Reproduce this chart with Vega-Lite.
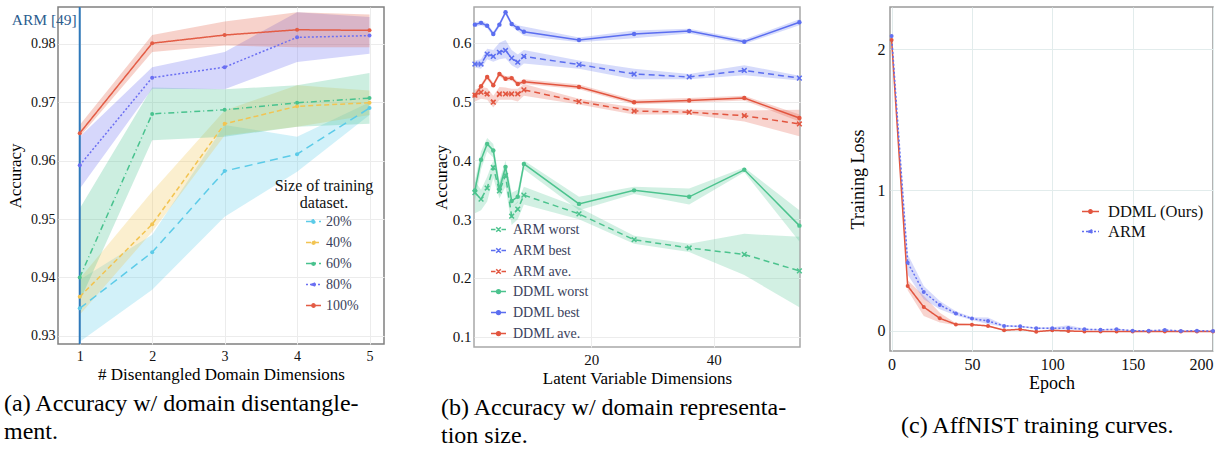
{
  "$schema": "https://vega.github.io/schema/vega-lite/v6.json",
  "autosize": {"type": "pad"},
  "padding": {"left": 3, "top": 5, "right": 0, "bottom": 0},
  "background": "white",
  "config": {
    "font": "Liberation Serif",
    "axis": {"domain": false, "ticks": false, "labelFont": "Liberation Serif", "titleFont": "Liberation Serif", "titleFontWeight": "normal", "labelColor": "#111", "titleColor": "#000", "gridColor": "#ececec", "labelPadding": 5},
    "legend": {"labelFont": "Liberation Serif", "titleFont": "Liberation Serif", "titleFontWeight": "normal"}
  },
  "resolve": {
    "scale": {"color": "independent", "strokeDash": "independent"},
    "legend": {"color": "independent", "strokeDash": "independent"}
  },
  "datasets": {
    "a": [
      {"x": 1, "s": "20%", "y": 0.9347, "lo": 0.9290, "hi": 0.9396},
      {"x": 2, "s": "20%", "y": 0.9443, "lo": 0.9379, "hi": 0.9473},
      {"x": 3, "s": "20%", "y": 0.9582, "lo": 0.9504, "hi": 0.9661},
      {"x": 4, "s": "20%", "y": 0.9611, "lo": 0.9581, "hi": 0.9641},
      {"x": 5, "s": "20%", "y": 0.9690, "lo": 0.9678, "hi": 0.9700},
      {"x": 1, "s": "40%", "y": 0.9367, "lo": 0.9336, "hi": 0.9398},
      {"x": 2, "s": "40%", "y": 0.9491, "lo": 0.9478, "hi": 0.9547},
      {"x": 3, "s": "40%", "y": 0.9663, "lo": 0.9643, "hi": 0.9686},
      {"x": 4, "s": "40%", "y": 0.9693, "lo": 0.9658, "hi": 0.9729},
      {"x": 5, "s": "40%", "y": 0.9699, "lo": 0.9678, "hi": 0.9720},
      {"x": 1, "s": "60%", "y": 0.9400, "lo": 0.9359, "hi": 0.9518},
      {"x": 2, "s": "60%", "y": 0.9680, "lo": 0.9635, "hi": 0.9725},
      {"x": 3, "s": "60%", "y": 0.9687, "lo": 0.9641, "hi": 0.9722},
      {"x": 4, "s": "60%", "y": 0.9699, "lo": 0.9658, "hi": 0.9729},
      {"x": 5, "s": "60%", "y": 0.9707, "lo": 0.9663, "hi": 0.9750},
      {"x": 1, "s": "80%", "y": 0.9592, "lo": 0.9552, "hi": 0.9641},
      {"x": 2, "s": "80%", "y": 0.9742, "lo": 0.9723, "hi": 0.9760},
      {"x": 3, "s": "80%", "y": 0.9760, "lo": 0.9722, "hi": 0.9786},
      {"x": 4, "s": "80%", "y": 0.9811, "lo": 0.9769, "hi": 0.9854},
      {"x": 5, "s": "80%", "y": 0.9814, "lo": 0.9783, "hi": 0.9846},
      {"x": 1, "s": "100%", "y": 0.9647, "lo": 0.9641, "hi": 0.9661},
      {"x": 2, "s": "100%", "y": 0.9801, "lo": 0.9786, "hi": 0.9815},
      {"x": 3, "s": "100%", "y": 0.9815, "lo": 0.9797, "hi": 0.9838},
      {"x": 4, "s": "100%", "y": 0.9824, "lo": 0.9794, "hi": 0.9854},
      {"x": 5, "s": "100%", "y": 0.9823, "lo": 0.9794, "hi": 0.9850}
    ],
    "barm": [
      {"x": 1, "s": "ARM worst", "y": 0.345, "lo": 0.310, "hi": 0.365},
      {"x": 2, "s": "ARM worst", "y": 0.334, "lo": 0.315, "hi": 0.350},
      {"x": 3, "s": "ARM worst", "y": 0.353, "lo": 0.330, "hi": 0.372},
      {"x": 4, "s": "ARM worst", "y": 0.388, "lo": 0.370, "hi": 0.400},
      {"x": 5, "s": "ARM worst", "y": 0.348, "lo": 0.335, "hi": 0.362},
      {"x": 6, "s": "ARM worst", "y": 0.374, "lo": 0.355, "hi": 0.390},
      {"x": 7, "s": "ARM worst", "y": 0.305, "lo": 0.290, "hi": 0.320},
      {"x": 8, "s": "ARM worst", "y": 0.317, "lo": 0.300, "hi": 0.330},
      {"x": 9, "s": "ARM worst", "y": 0.341, "lo": 0.325, "hi": 0.355},
      {"x": 18, "s": "ARM worst", "y": 0.309, "lo": 0.300, "hi": 0.320},
      {"x": 27, "s": "ARM worst", "y": 0.265, "lo": 0.258, "hi": 0.272},
      {"x": 36, "s": "ARM worst", "y": 0.251, "lo": 0.244, "hi": 0.258},
      {"x": 45, "s": "ARM worst", "y": 0.240, "lo": 0.205, "hi": 0.275},
      {"x": 54, "s": "ARM worst", "y": 0.212, "lo": 0.150, "hi": 0.270},
      {"x": 1, "s": "ARM best", "y": 0.564, "lo": 0.558, "hi": 0.570},
      {"x": 2, "s": "ARM best", "y": 0.564, "lo": 0.556, "hi": 0.572},
      {"x": 3, "s": "ARM best", "y": 0.581, "lo": 0.572, "hi": 0.590},
      {"x": 4, "s": "ARM best", "y": 0.577, "lo": 0.568, "hi": 0.588},
      {"x": 5, "s": "ARM best", "y": 0.584, "lo": 0.572, "hi": 0.600},
      {"x": 6, "s": "ARM best", "y": 0.587, "lo": 0.574, "hi": 0.605},
      {"x": 7, "s": "ARM best", "y": 0.574, "lo": 0.562, "hi": 0.588},
      {"x": 8, "s": "ARM best", "y": 0.567, "lo": 0.556, "hi": 0.580},
      {"x": 9, "s": "ARM best", "y": 0.577, "lo": 0.565, "hi": 0.588},
      {"x": 18, "s": "ARM best", "y": 0.563, "lo": 0.556, "hi": 0.570},
      {"x": 27, "s": "ARM best", "y": 0.547, "lo": 0.538, "hi": 0.556},
      {"x": 36, "s": "ARM best", "y": 0.542, "lo": 0.538, "hi": 0.547},
      {"x": 45, "s": "ARM best", "y": 0.553, "lo": 0.545, "hi": 0.562},
      {"x": 54, "s": "ARM best", "y": 0.540, "lo": 0.536, "hi": 0.544},
      {"x": 1, "s": "ARM ave.", "y": 0.511, "lo": 0.500, "hi": 0.520},
      {"x": 2, "s": "ARM ave.", "y": 0.516, "lo": 0.505, "hi": 0.525},
      {"x": 3, "s": "ARM ave.", "y": 0.513, "lo": 0.503, "hi": 0.523},
      {"x": 4, "s": "ARM ave.", "y": 0.499, "lo": 0.490, "hi": 0.510},
      {"x": 5, "s": "ARM ave.", "y": 0.513, "lo": 0.503, "hi": 0.525},
      {"x": 6, "s": "ARM ave.", "y": 0.513, "lo": 0.503, "hi": 0.524},
      {"x": 7, "s": "ARM ave.", "y": 0.513, "lo": 0.503, "hi": 0.522},
      {"x": 8, "s": "ARM ave.", "y": 0.513, "lo": 0.500, "hi": 0.522},
      {"x": 9, "s": "ARM ave.", "y": 0.520, "lo": 0.510, "hi": 0.530},
      {"x": 18, "s": "ARM ave.", "y": 0.500, "lo": 0.495, "hi": 0.505},
      {"x": 27, "s": "ARM ave.", "y": 0.484, "lo": 0.478, "hi": 0.490},
      {"x": 36, "s": "ARM ave.", "y": 0.482, "lo": 0.478, "hi": 0.486},
      {"x": 45, "s": "ARM ave.", "y": 0.476, "lo": 0.466, "hi": 0.485},
      {"x": 54, "s": "ARM ave.", "y": 0.462, "lo": 0.441, "hi": 0.486}
    ],
    "bddml": [
      {"x": 1, "s": "DDML worst", "y": 0.349, "lo": 0.330, "hi": 0.365},
      {"x": 2, "s": "DDML worst", "y": 0.401, "lo": 0.385, "hi": 0.415},
      {"x": 3, "s": "DDML worst", "y": 0.428, "lo": 0.415, "hi": 0.438},
      {"x": 4, "s": "DDML worst", "y": 0.417, "lo": 0.405, "hi": 0.428},
      {"x": 5, "s": "DDML worst", "y": 0.351, "lo": 0.340, "hi": 0.365},
      {"x": 6, "s": "DDML worst", "y": 0.389, "lo": 0.375, "hi": 0.400},
      {"x": 7, "s": "DDML worst", "y": 0.331, "lo": 0.320, "hi": 0.345},
      {"x": 8, "s": "DDML worst", "y": 0.338, "lo": 0.328, "hi": 0.350},
      {"x": 9, "s": "DDML worst", "y": 0.394, "lo": 0.385, "hi": 0.400},
      {"x": 18, "s": "DDML worst", "y": 0.326, "lo": 0.315, "hi": 0.338},
      {"x": 27, "s": "DDML worst", "y": 0.349, "lo": 0.343, "hi": 0.355},
      {"x": 36, "s": "DDML worst", "y": 0.338, "lo": 0.325, "hi": 0.352},
      {"x": 45, "s": "DDML worst", "y": 0.384, "lo": 0.380, "hi": 0.388},
      {"x": 54, "s": "DDML worst", "y": 0.289, "lo": 0.262, "hi": 0.315},
      {"x": 1, "s": "DDML best", "y": 0.631, "lo": 0.627, "hi": 0.635},
      {"x": 2, "s": "DDML best", "y": 0.634, "lo": 0.630, "hi": 0.638},
      {"x": 3, "s": "DDML best", "y": 0.629, "lo": 0.625, "hi": 0.633},
      {"x": 4, "s": "DDML best", "y": 0.615, "lo": 0.611, "hi": 0.619},
      {"x": 5, "s": "DDML best", "y": 0.631, "lo": 0.627, "hi": 0.635},
      {"x": 6, "s": "DDML best", "y": 0.652, "lo": 0.648, "hi": 0.656},
      {"x": 7, "s": "DDML best", "y": 0.632, "lo": 0.628, "hi": 0.636},
      {"x": 8, "s": "DDML best", "y": 0.625, "lo": 0.620, "hi": 0.630},
      {"x": 9, "s": "DDML best", "y": 0.619, "lo": 0.612, "hi": 0.628},
      {"x": 18, "s": "DDML best", "y": 0.605, "lo": 0.601, "hi": 0.609},
      {"x": 27, "s": "DDML best", "y": 0.615, "lo": 0.608, "hi": 0.621},
      {"x": 36, "s": "DDML best", "y": 0.620, "lo": 0.616, "hi": 0.624},
      {"x": 45, "s": "DDML best", "y": 0.602, "lo": 0.598, "hi": 0.606},
      {"x": 54, "s": "DDML best", "y": 0.635, "lo": 0.630, "hi": 0.640},
      {"x": 1, "s": "DDML ave.", "y": 0.511, "lo": 0.507, "hi": 0.515},
      {"x": 2, "s": "DDML ave.", "y": 0.526, "lo": 0.522, "hi": 0.530},
      {"x": 3, "s": "DDML ave.", "y": 0.542, "lo": 0.538, "hi": 0.546},
      {"x": 4, "s": "DDML ave.", "y": 0.528, "lo": 0.524, "hi": 0.532},
      {"x": 5, "s": "DDML ave.", "y": 0.547, "lo": 0.543, "hi": 0.551},
      {"x": 6, "s": "DDML ave.", "y": 0.539, "lo": 0.535, "hi": 0.543},
      {"x": 7, "s": "DDML ave.", "y": 0.540, "lo": 0.536, "hi": 0.544},
      {"x": 8, "s": "DDML ave.", "y": 0.530, "lo": 0.526, "hi": 0.534},
      {"x": 9, "s": "DDML ave.", "y": 0.534, "lo": 0.530, "hi": 0.538},
      {"x": 18, "s": "DDML ave.", "y": 0.525, "lo": 0.521, "hi": 0.529},
      {"x": 27, "s": "DDML ave.", "y": 0.499, "lo": 0.495, "hi": 0.503},
      {"x": 36, "s": "DDML ave.", "y": 0.502, "lo": 0.498, "hi": 0.506},
      {"x": 45, "s": "DDML ave.", "y": 0.506, "lo": 0.502, "hi": 0.510},
      {"x": 54, "s": "DDML ave.", "y": 0.472, "lo": 0.466, "hi": 0.478}
    ],
    "c": [
      {"e": 0, "m": "DDML (Ours)", "y": 2.066, "lo": 2.060, "hi": 2.072},
      {"e": 10, "m": "DDML (Ours)", "y": 0.320, "lo": 0.290, "hi": 0.360},
      {"e": 20, "m": "DDML (Ours)", "y": 0.170, "lo": 0.106, "hi": 0.250},
      {"e": 30, "m": "DDML (Ours)", "y": 0.090, "lo": 0.060, "hi": 0.130},
      {"e": 40, "m": "DDML (Ours)", "y": 0.047, "lo": 0.040, "hi": 0.055},
      {"e": 50, "m": "DDML (Ours)", "y": 0.045, "lo": 0.040, "hi": 0.050},
      {"e": 60, "m": "DDML (Ours)", "y": 0.036, "lo": 0.031, "hi": 0.041},
      {"e": 70, "m": "DDML (Ours)", "y": 0.005, "lo": 0.001, "hi": 0.009},
      {"e": 80, "m": "DDML (Ours)", "y": 0.012, "lo": 0.008, "hi": 0.016},
      {"e": 90, "m": "DDML (Ours)", "y": -0.005, "lo": -0.008, "hi": -0.002},
      {"e": 100, "m": "DDML (Ours)", "y": 0.005, "lo": 0.002, "hi": 0.008},
      {"e": 110, "m": "DDML (Ours)", "y": 0.000, "lo": -0.003, "hi": 0.003},
      {"e": 120, "m": "DDML (Ours)", "y": -0.003, "lo": -0.005, "hi": -0.001},
      {"e": 130, "m": "DDML (Ours)", "y": -0.003, "lo": -0.005, "hi": -0.001},
      {"e": 140, "m": "DDML (Ours)", "y": -0.003, "lo": -0.005, "hi": -0.001},
      {"e": 150, "m": "DDML (Ours)", "y": -0.003, "lo": -0.005, "hi": -0.001},
      {"e": 160, "m": "DDML (Ours)", "y": -0.003, "lo": -0.005, "hi": -0.001},
      {"e": 170, "m": "DDML (Ours)", "y": -0.003, "lo": -0.005, "hi": -0.001},
      {"e": 180, "m": "DDML (Ours)", "y": -0.003, "lo": -0.005, "hi": -0.001},
      {"e": 190, "m": "DDML (Ours)", "y": -0.003, "lo": -0.005, "hi": -0.001},
      {"e": 200, "m": "DDML (Ours)", "y": -0.003, "lo": -0.005, "hi": -0.001},
      {"e": 0, "m": "ARM", "y": 2.095, "lo": 2.088, "hi": 2.102},
      {"e": 10, "m": "ARM", "y": 0.485, "lo": 0.400, "hi": 0.544},
      {"e": 20, "m": "ARM", "y": 0.277, "lo": 0.225, "hi": 0.320},
      {"e": 30, "m": "ARM", "y": 0.185, "lo": 0.154, "hi": 0.213},
      {"e": 40, "m": "ARM", "y": 0.125, "lo": 0.110, "hi": 0.140},
      {"e": 50, "m": "ARM", "y": 0.088, "lo": 0.078, "hi": 0.098},
      {"e": 60, "m": "ARM", "y": 0.071, "lo": 0.050, "hi": 0.095},
      {"e": 70, "m": "ARM", "y": 0.036, "lo": 0.030, "hi": 0.042},
      {"e": 80, "m": "ARM", "y": 0.033, "lo": 0.027, "hi": 0.039},
      {"e": 90, "m": "ARM", "y": 0.019, "lo": 0.014, "hi": 0.024},
      {"e": 100, "m": "ARM", "y": 0.019, "lo": 0.012, "hi": 0.026},
      {"e": 110, "m": "ARM", "y": 0.021, "lo": 0.008, "hi": 0.040},
      {"e": 120, "m": "ARM", "y": 0.012, "lo": 0.007, "hi": 0.017},
      {"e": 130, "m": "ARM", "y": 0.009, "lo": 0.005, "hi": 0.013},
      {"e": 140, "m": "ARM", "y": 0.012, "lo": 0.007, "hi": 0.017},
      {"e": 150, "m": "ARM", "y": 0.002, "lo": -0.001, "hi": 0.005},
      {"e": 160, "m": "ARM", "y": 0.002, "lo": -0.001, "hi": 0.005},
      {"e": 170, "m": "ARM", "y": 0.007, "lo": 0.003, "hi": 0.011},
      {"e": 180, "m": "ARM", "y": 0.000, "lo": -0.003, "hi": 0.003},
      {"e": 190, "m": "ARM", "y": 0.002, "lo": -0.001, "hi": 0.005},
      {"e": 200, "m": "ARM", "y": 0.000, "lo": -0.003, "hi": 0.003}
    ]
  },
  "spacing": 90,
  "bounds": "flush",
  "hconcat": [
    {
      "width": 326,
      "height": 337,
      "view": {"stroke": "#808080", "strokeWidth": 1.5},
      "title": {"text": ["(a) Accuracy w/ domain disentangle-", "ment."], "orient": "bottom", "anchor": "start", "frame": "group", "baseline": "top", "lineHeight": 28, "font": "Liberation Serif", "fontSize": 24, "fontWeight": "normal", "color": "#000", "dx": -54, "offset": 10},
      "layer": [
        {
          "data": {"name": "a"},
          "mark": {"type": "area", "fillOpacity": 0.28, "clip": true},
          "encoding": {
            "x": {"field": "x", "type": "quantitative", "scale": {"domain": [0.7, 5.2], "nice": false, "zero": false},
              "axis": {"values": [1, 2, 3, 4, 5], "format": "d", "title": "# Disentangled Domain Dimensions", "labelFont": "Liberation Serif", "titleFont": "Liberation Serif", "labelFontSize": 14, "titleFontSize": 17, "titlePadding": 3, "grid": true}},
            "y": {"field": "lo", "type": "quantitative", "scale": {"domain": [0.9286, 0.9863], "nice": false, "zero": false},
              "axis": {"values": [0.93, 0.94, 0.95, 0.96, 0.97, 0.98], "format": ".2f", "title": "Accuracy", "labelFont": "Liberation Serif", "titleFont": "Liberation Serif", "labelFontSize": 14, "titleFontSize": 17, "titlePadding": 6, "labelPadding": 3}},
            "y2": {"field": "hi"},
            "color": {"field": "s", "type": "nominal",
              "scale": {"domain": ["20%", "40%", "60%", "80%", "100%"], "range": ["#5ccbe8", "#f2c452", "#48c28e", "#6b6ff2", "#e35c45"]}}
          }
        },
        {
          "data": {"values": [{"x": 1}]},
          "mark": {"type": "rule", "color": "#2f79bb", "strokeWidth": 2},
          "encoding": {"x": {"field": "x", "type": "quantitative"}}
        },
        {
          "data": {"name": "a"},
          "mark": {"type": "line", "strokeWidth": 1.5, "clip": true},
          "encoding": {
            "x": {"field": "x", "type": "quantitative"},
            "y": {"field": "y", "type": "quantitative"},
            "color": {"field": "s", "type": "nominal",
              "legend": {"orient": "none", "legendX": 217, "legendY": 171, "title": ["Size of training", "dataset."], "titleFont": "Liberation Serif", "titleFontWeight": "normal", "titleFontSize": 16, "titleLineHeight": 17, "titleColor": "#111", "titleAnchor": "middle", "titleAlign": "center", "titlePadding": 2, "labelFont": "Liberation Serif", "labelFontSize": 14, "labelColor": "#3a3f5c", "symbolType": "M-1,0H1M0.22,0A0.22,0.22,0,1,1,-0.22,0A0.22,0.22,0,1,1,0.22,0Z", "symbolSize": 225, "symbolStrokeWidth": 1.5, "symbolOpacity": 1, "rowPadding": 5, "symbolOffset": 15, "labelOffset": 4}},
            "strokeDash": {"field": "s", "type": "nominal",
              "scale": {"domain": ["20%", "40%", "60%", "80%", "100%"], "range": [[8, 5], [5, 3], [6, 3, 1, 3], [2, 2], [1, 0]]},
              "legend": {"orient": "none", "legendX": 217, "legendY": 171, "title": ["Size of training", "dataset."], "titleFont": "Liberation Serif", "titleFontWeight": "normal", "titleFontSize": 16, "titleLineHeight": 17, "titleColor": "#111", "titleAnchor": "middle", "titleAlign": "center", "titlePadding": 2, "labelFont": "Liberation Serif", "labelFontSize": 14, "labelColor": "#3a3f5c", "symbolType": "M-1,0H1M0.22,0A0.22,0.22,0,1,1,-0.22,0A0.22,0.22,0,1,1,0.22,0Z", "symbolSize": 225, "symbolStrokeWidth": 1.5, "symbolOpacity": 1, "rowPadding": 5, "symbolOffset": 15, "labelOffset": 4}}
          }
        },
        {
          "data": {"name": "a"},
          "mark": {"type": "point", "filled": true, "size": 16, "opacity": 1},
          "encoding": {
            "x": {"field": "x", "type": "quantitative"},
            "y": {"field": "y", "type": "quantitative"},
            "color": {"field": "s", "type": "nominal"}
          }
        },
        {
          "data": {"values": [{"x": 1, "y": 0.9833, "t": "ARM [49]"}]},
          "mark": {"type": "text", "align": "right", "baseline": "alphabetic", "dx": -3, "font": "Liberation Serif", "fontSize": 15.5, "color": "#2c5d8f"},
          "encoding": {
            "x": {"field": "x", "type": "quantitative"},
            "y": {"field": "y", "type": "quantitative"},
            "text": {"field": "t"}
          }
        }
      ]
    },
    {
      "width": 326,
      "height": 340,
      "view": {"stroke": "#a8a8a8", "strokeWidth": 1.5},
      "title": {"text": ["(b) Accuracy w/ domain representa-", "tion size."], "orient": "bottom", "anchor": "start", "frame": "group", "baseline": "top", "lineHeight": 28, "font": "Liberation Serif", "fontSize": 24, "fontWeight": "normal", "color": "#000", "dx": -33, "offset": 10},
      "resolve": {"scale": {"color": "independent"}, "legend": {"color": "independent"}},
      "layer": [
        {
          "data": {"name": "barm"},
          "layer": [
            {
              "mark": {"type": "area", "fillOpacity": 0.25, "clip": true},
              "encoding": {
                "x": {"field": "x", "type": "quantitative", "scale": {"domain": [0.85, 54.1], "nice": false, "zero": false},
                  "axis": {"values": [20, 40], "title": "Latent Variable Dimensions", "labelFont": "Liberation Serif", "titleFont": "Liberation Serif", "labelFontSize": 15, "titleFontSize": 17, "titlePadding": 3, "grid": true}},
                "y": {"field": "lo", "type": "quantitative", "scale": {"domain": [0.0825, 0.661], "nice": false, "zero": false},
                  "axis": {"values": [0.1, 0.2, 0.3, 0.4, 0.5, 0.6], "format": ".1f", "title": "Accuracy", "labelFont": "Liberation Serif", "titleFont": "Liberation Serif", "labelFontSize": 15, "titleFontSize": 17, "titlePadding": 2, "labelPadding": 3}},
                "y2": {"field": "hi"},
                "color": {"field": "s", "type": "nominal",
                  "scale": {"domain": ["ARM worst", "ARM best", "ARM ave."], "range": ["#4cc38e", "#5b6ef0", "#e2553f"]}}
              }
            },
            {
              "mark": {"type": "line", "strokeWidth": 1.5, "strokeDash": [6, 4]},
              "encoding": {
                "x": {"field": "x", "type": "quantitative"},
                "y": {"field": "y", "type": "quantitative"},
                "color": {"field": "s", "type": "nominal",
                  "legend": {"orient": "none", "legendX": 16, "legendY": 214, "title": null, "labelFont": "Liberation Serif", "labelFontSize": 14, "labelColor": "#3a3f5c", "symbolType": "M-1,0H-0.4M0.4,0H1M-0.3,-0.3L0.3,0.3M-0.3,0.3L0.3,-0.3", "symbolSize": 225, "symbolStrokeWidth": 1.5, "symbolOpacity": 1, "rowPadding": 5, "labelOffset": 6}}
              }
            },
            {
              "mark": {"type": "point", "shape": "M-1,-1L1,1M-1,1L1,-1", "filled": false, "size": 22, "strokeWidth": 1.5, "opacity": 1},
              "encoding": {
                "x": {"field": "x", "type": "quantitative"},
                "y": {"field": "y", "type": "quantitative"},
                "color": {"field": "s", "type": "nominal"}
              }
            }
          ]
        },
        {
          "data": {"name": "bddml"},
          "layer": [
            {
              "mark": {"type": "area", "fillOpacity": 0.25, "clip": true},
              "encoding": {
                "x": {"field": "x", "type": "quantitative"},
                "y": {"field": "lo", "type": "quantitative"},
                "y2": {"field": "hi"},
                "color": {"field": "s", "type": "nominal",
                  "scale": {"domain": ["DDML worst", "DDML best", "DDML ave."], "range": ["#4cc38e", "#5b6ef0", "#e2553f"]}}
              }
            },
            {
              "mark": {"type": "line", "strokeWidth": 1.5},
              "encoding": {
                "x": {"field": "x", "type": "quantitative"},
                "y": {"field": "y", "type": "quantitative"},
                "color": {"field": "s", "type": "nominal",
                  "legend": {"orient": "none", "legendX": 16, "legendY": 276, "title": null, "labelFont": "Liberation Serif", "labelFontSize": 14, "labelColor": "#3a3f5c", "symbolType": "M-1,0H1M0.25,0A0.25,0.25,0,1,1,-0.25,0A0.25,0.25,0,1,1,0.25,0Z", "symbolSize": 225, "symbolStrokeWidth": 1.5, "symbolOpacity": 1, "rowPadding": 5, "labelOffset": 6}}
              }
            },
            {
              "mark": {"type": "point", "filled": true, "size": 20, "opacity": 1},
              "encoding": {
                "x": {"field": "x", "type": "quantitative"},
                "y": {"field": "y", "type": "quantitative"},
                "color": {"field": "s", "type": "nominal"}
              }
            }
          ]
        }
      ]
    },
    {
      "width": 323,
      "height": 344,
      "view": {"stroke": "#9a9a9a", "strokeWidth": 1.5},
      "title": {"text": "(c) AffNIST training curves.", "orient": "bottom", "anchor": "start", "frame": "group", "baseline": "top", "font": "Liberation Serif", "fontSize": 24, "fontWeight": "normal", "color": "#000", "dx": 11, "offset": 22},
      "data": {"name": "c"},
      "layer": [
        {
          "mark": {"type": "area", "fillOpacity": 0.25},
          "encoding": {
            "x": {"field": "e", "type": "quantitative", "scale": {"domain": [-1, 200], "nice": false, "zero": false},
              "axis": {"values": [0, 50, 100, 150, 200], "format": "d", "title": "Epoch", "labelFont": "Liberation Serif", "titleFont": "Liberation Serif", "labelFontSize": 16, "titleFontSize": 18, "titlePadding": 2, "grid": true, "gridColor": "#e2ecec"}},
            "y": {"field": "lo", "type": "quantitative", "scale": {"domain": [-0.142, 2.3], "nice": false, "zero": false},
              "axis": {"values": [0, 1, 2], "format": "d", "title": "Training Loss", "labelFont": "Liberation Serif", "titleFont": "Liberation Serif", "labelFontSize": 16, "titleFontSize": 18, "titlePadding": 10, "gridColor": "#e2ecec"}},
            "y2": {"field": "hi"},
            "color": {"field": "m", "type": "nominal",
              "scale": {"domain": ["DDML (Ours)", "ARM"], "range": ["#e2553f", "#6370f0"]}}
          }
        },
        {
          "mark": {"type": "line", "strokeWidth": 1.5},
          "encoding": {
            "x": {"field": "e", "type": "quantitative"},
            "y": {"field": "y", "type": "quantitative"},
            "color": {"field": "m", "type": "nominal",
              "legend": {"orient": "none", "legendX": 191, "legendY": 195, "title": null, "labelFont": "Liberation Serif", "labelFontSize": 16.5, "labelColor": "#111", "symbolType": "M-1,0H1M0.2,0A0.2,0.2,0,1,1,-0.2,0A0.2,0.2,0,1,1,0.2,0Z", "symbolSize": 289, "symbolStrokeWidth": 1.5, "symbolOpacity": 1, "rowPadding": 2, "labelOffset": 8}},
            "strokeDash": {"field": "m", "type": "nominal",
              "scale": {"domain": ["DDML (Ours)", "ARM"], "range": [[1, 0], [2, 2]]},
              "legend": {"orient": "none", "legendX": 191, "legendY": 195, "title": null, "labelFont": "Liberation Serif", "labelFontSize": 16.5, "labelColor": "#111", "symbolType": "M-1,0H1M0.2,0A0.2,0.2,0,1,1,-0.2,0A0.2,0.2,0,1,1,0.2,0Z", "symbolSize": 289, "symbolStrokeWidth": 1.5, "symbolOpacity": 1, "rowPadding": 2, "labelOffset": 8}}
          }
        },
        {
          "mark": {"type": "point", "filled": true, "size": 16, "opacity": 1},
          "encoding": {
            "x": {"field": "e", "type": "quantitative"},
            "y": {"field": "y", "type": "quantitative"},
            "color": {"field": "m", "type": "nominal"}
          }
        }
      ]
    }
  ]
}
